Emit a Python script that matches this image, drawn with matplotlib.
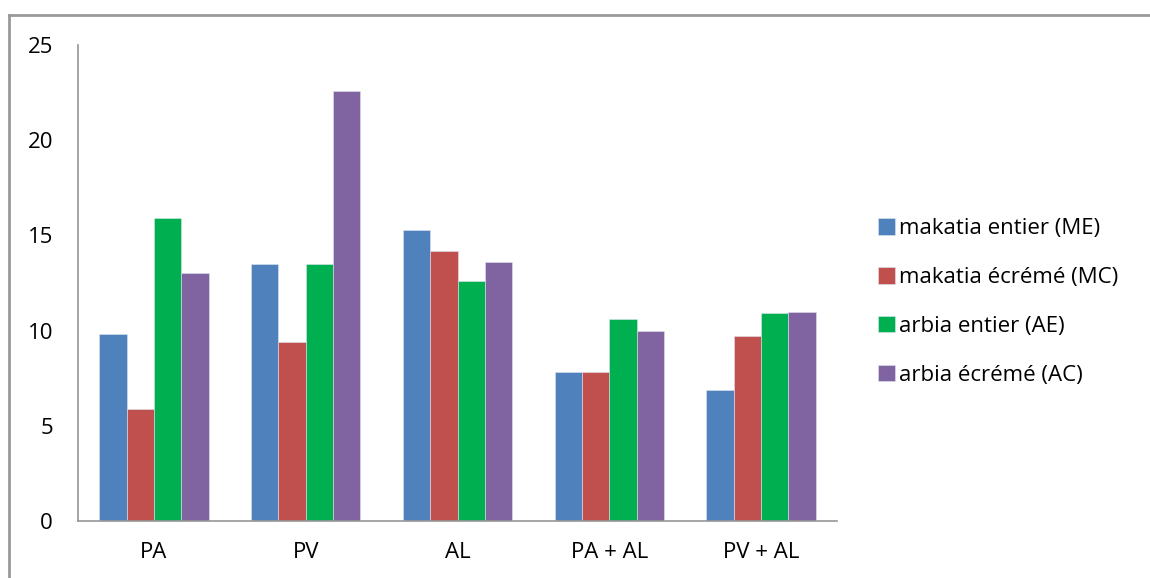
import matplotlib.pyplot as plt
import numpy as np

# Categories and series values
categories = ['PA', 'PV', 'AL', 'PA + AL', 'PV + AL']
series_names = ['makatia entier (ME)', 'makatia écrémé (MC)',
                'arbia entier (AE)', 'arbia écrémé (AC)']
me = [9.8, 13.5, 15.3, 7.8, 6.9]
mc = [5.9, 9.4, 14.2, 7.8, 9.7]
ae = [15.9, 13.5, 12.6, 10.6, 10.9]
ac = [13.0, 22.6, 13.6, 10.0, 11.0]
colors = ['#4F81BD', '#C0504D', '#00B050', '#8064A2']

plt.rcParams['font.family'] = ['Open Sans', 'DejaVu Sans']

fig = plt.figure(figsize=(11.5, 5.78), dpi=100)
ax = fig.add_axes([78 / 1150, 1 - 521 / 578, (837 - 78) / 1150, (521 - 45) / 578])

x = np.arange(len(categories))
width = 0.18
for i, (vals, name) in enumerate(zip([me, mc, ae, ac], series_names)):
    ax.bar(x + (i - 1.5) * width, vals, width, color=colors[i], label=name,
           edgecolor='#dde3ee', linewidth=0.4)

ax.set_xlim(-0.5, len(categories) - 0.5)
ax.set_ylim(0, 25)
ax.set_yticks(range(0, 26, 5))
ax.set_xticks(x)
ax.set_xticklabels(categories)
ax.tick_params(axis='both', length=0, labelsize=16, colors='black')
ax.tick_params(axis='y', pad=18)
ax.tick_params(axis='x', pad=15)

for side in ['top', 'right']:
    ax.spines[side].set_visible(False)
for side in ['left', 'bottom']:
    ax.spines[side].set_color('#969696')
    ax.spines[side].set_linewidth(1.2)

ax.legend(loc='center left', bbox_to_anchor=(878 / 1150, 1 - 302 / 578),
          bbox_transform=fig.transFigure, frameon=False, fontsize=16,
          handlelength=0.75, handleheight=0.75, handletextpad=0.2,
          labelspacing=1.25, borderaxespad=0, borderpad=0)

# outer chart frame
fig.add_artist(plt.Line2D([9 / 1150, 1.0], [1 - 15 / 578] * 2,
                          transform=fig.transFigure, color='#999999', linewidth=2))
fig.add_artist(plt.Line2D([9 / 1150] * 2, [0, 1 - 15 / 578],
                          transform=fig.transFigure, color='#999999', linewidth=2))

fig.savefig('out.png', dpi=100)
